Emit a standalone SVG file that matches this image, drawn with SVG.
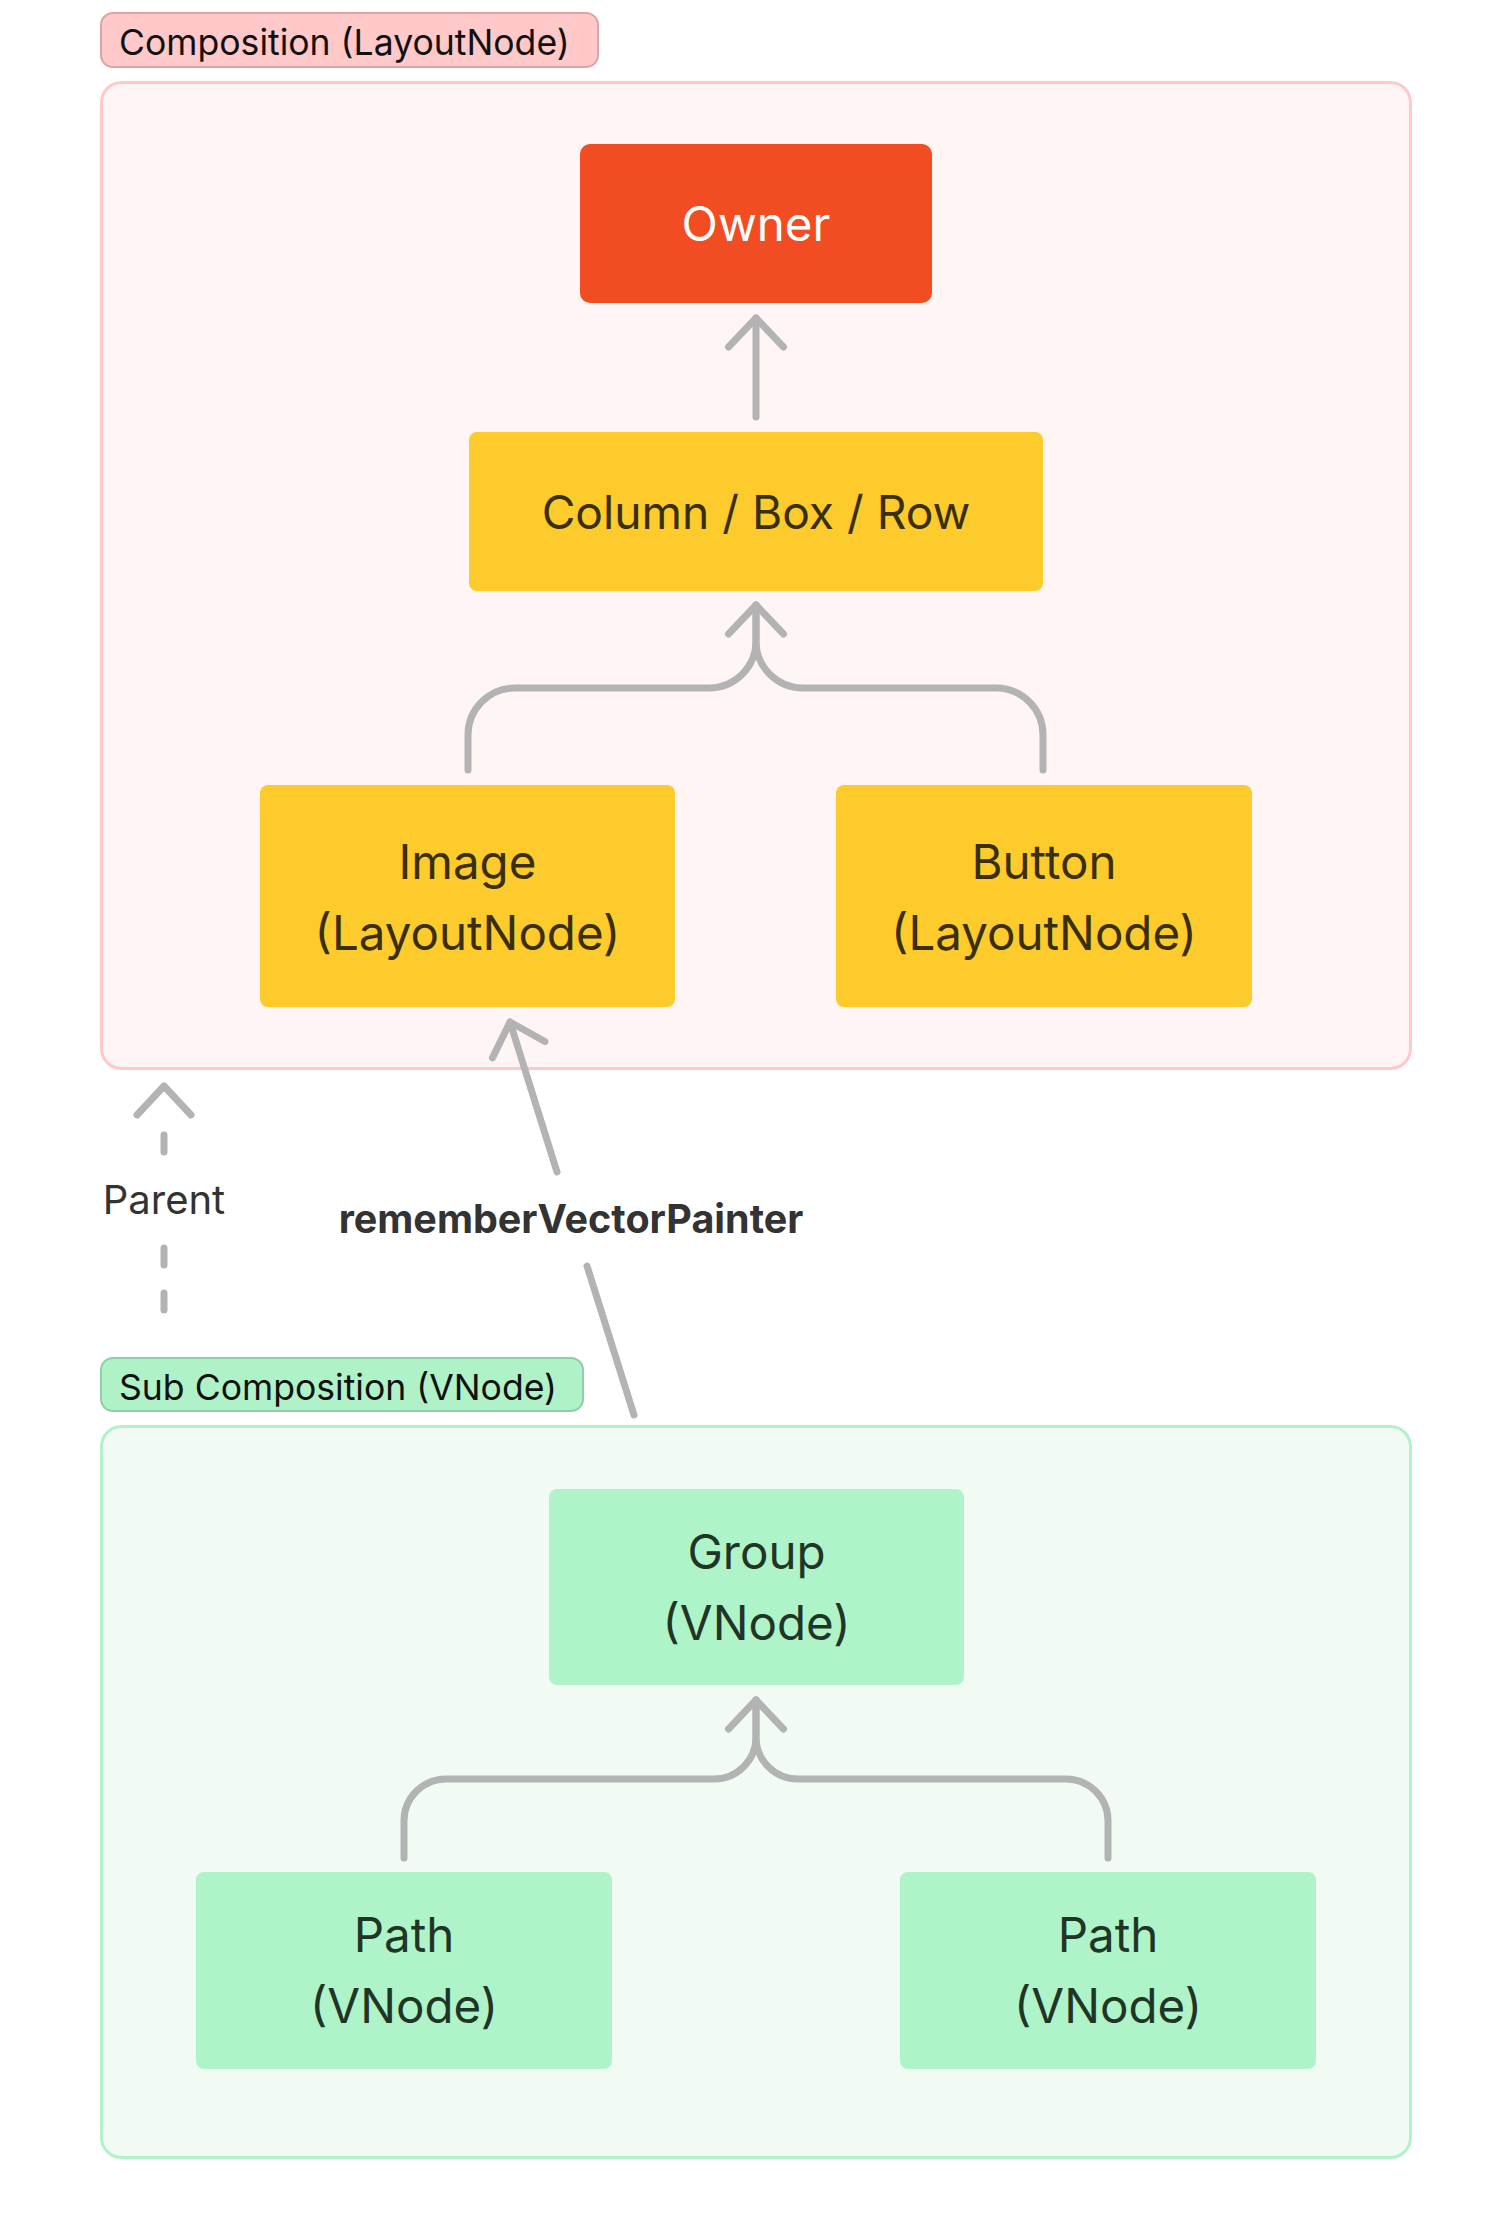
<svg xmlns="http://www.w3.org/2000/svg" width="1492" height="2240" viewBox="0 0 1492 2240">
<defs>
<marker id="chev" markerUnits="userSpaceOnUse" markerWidth="80" markerHeight="80" refX="0" refY="0" orient="auto" overflow="visible">
<path d="M-29,-27.5 L0,0 L-29,27.5" fill="none" stroke="#b3b3b3" stroke-width="7" stroke-linecap="round" stroke-linejoin="round"/>
</marker>
<style>
text{font-family:Inter,"Noto Sans","Liberation Sans",sans-serif;}
.conn{fill:none;stroke:#b3b3b3;stroke-width:7;stroke-linecap:round;stroke-linejoin:round;}
.ny{fill:#fdcb2b;}
.ng{fill:#aff4c8;}
.ty{font-size:47.5px;fill:#3a2f0b;text-anchor:middle;}
.tg{font-size:47.5px;fill:#1f3526;text-anchor:middle;}
.lbl{font-size:35.6px;fill:#111;}
</style>
</defs>
<rect width="1492" height="2240" fill="#ffffff"/>
<g id="composition">
<rect x="101.5" y="82.5" width="1309" height="986" rx="20" fill="#fff5f5" stroke="#ffc9c9" stroke-width="3"/>
<rect x="101" y="13" width="497" height="54" rx="12" fill="#ffc9c9" stroke="#e0a3a3" stroke-width="2"/>
<text class="lbl" x="119" y="55">Composition (LayoutNode)</text>
</g>
<g id="subcomposition">
<rect x="101.5" y="1426.5" width="1309" height="731" rx="20" fill="#f1fbf4" stroke="#b2f2ca" stroke-width="3"/>
<rect x="101" y="1358" width="482" height="53" rx="12" fill="#b0f2c8" stroke="#8cd0a4" stroke-width="2"/>
<text class="lbl" x="119" y="1400">Sub Composition (VNode)</text>
</g>
<g id="connectors">
<path class="conn" d="M756 417 V318" marker-end="url(#chev)"/>
<path class="conn" d="M468 770 V735 A47 47 0 0 1 515 688 H709 A47 47 0 0 0 756 641 V605" marker-end="url(#chev)"/>
<path class="conn" d="M1043 770 V735 A47 47 0 0 0 996 688 H803 A47 47 0 0 1 756 641 V605"/>
<path class="conn" d="M404 1858 V1821 A42 42 0 0 1 446 1779 H714 A42 42 0 0 0 756 1737 V1700" marker-end="url(#chev)"/>
<path class="conn" d="M1108 1858 V1821 A42 42 0 0 0 1066 1779 H798 A42 42 0 0 1 756 1737 V1700"/>
<path class="conn" d="M634 1415 L587 1266"/>
<path class="conn" d="M557 1172 L510 1022" marker-end="url(#chev)"/>
<path class="conn" d="M137 1115 L164 1086 L191 1115"/>
<path class="conn" d="M164 1135 V1152"/>
<path class="conn" d="M164 1310 V1248" stroke-dasharray="17 28"/>
<text x="164" y="1214" font-size="40" fill="#333" text-anchor="middle">Parent</text>
<text x="571" y="1233" font-size="39.5" font-weight="700" fill="#333" text-anchor="middle">rememberVectorPainter</text>
</g>
<g id="owner">
<rect x="580" y="144" width="352" height="159" rx="10" fill="#f24c23"/>
<text x="756" y="241" font-size="47.5" fill="#ffffff" text-anchor="middle">Owner</text>
</g>
<g id="column">
<rect class="ny" x="469" y="432" width="574" height="159" rx="8"/>
<text class="ty" x="756" y="529" style="font-size:46.2px">Column / Box / Row</text>
</g>
<g id="image">
<rect class="ny" x="260" y="785" width="415" height="222" rx="8"/>
<text class="ty" x="467.5" y="879">Image</text>
<text class="ty" x="467.5" y="950">(LayoutNode)</text>
</g>
<g id="button">
<rect class="ny" x="836" y="785" width="416" height="222" rx="8"/>
<text class="ty" x="1044" y="879">Button</text>
<text class="ty" x="1044" y="950">(LayoutNode)</text>
</g>
<g id="group">
<rect class="ng" x="549" y="1489" width="415" height="196" rx="8"/>
<text class="tg" x="756.5" y="1569">Group</text>
<text class="tg" x="756.5" y="1640">(VNode)</text>
</g>
<g id="path-left">
<rect class="ng" x="196" y="1872" width="416" height="197" rx="8"/>
<text class="tg" x="404" y="1952">Path</text>
<text class="tg" x="404" y="2023">(VNode)</text>
</g>
<g id="path-right">
<rect class="ng" x="900" y="1872" width="416" height="197" rx="8"/>
<text class="tg" x="1108" y="1952">Path</text>
<text class="tg" x="1108" y="2023">(VNode)</text>
</g>
</svg>
